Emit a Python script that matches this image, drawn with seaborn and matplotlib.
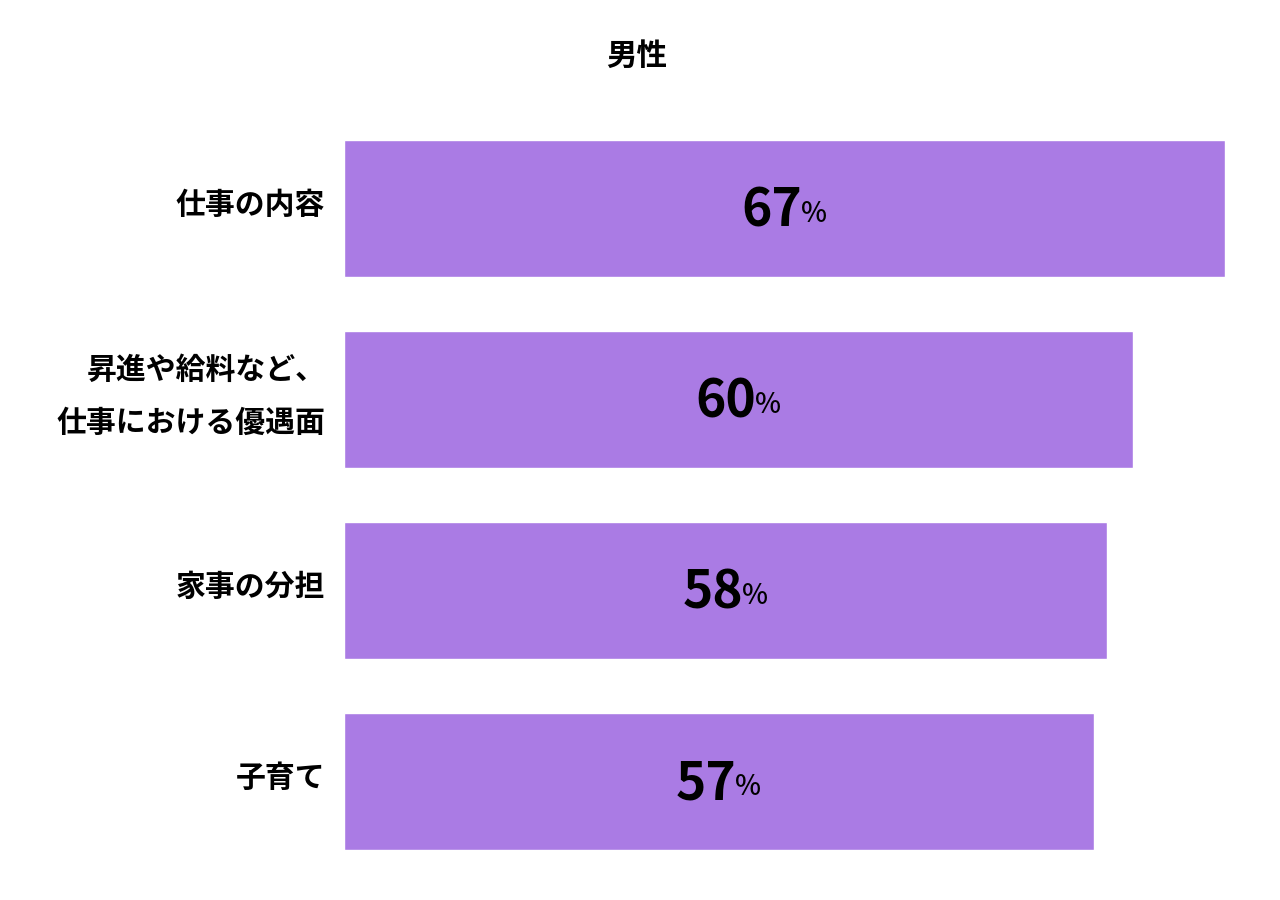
import matplotlib
matplotlib.use("Agg")
import matplotlib.pyplot as plt
import seaborn as sns
import pandas as pd

categories = ["仕事の内容", "昇進や給料など、\n仕事における優遇面", "家事の分担", "子育て"]
values = [67, 60, 58, 57]
title = "男性"
bar_color = "#AA7BE4"

sns.set_theme(style="white")
plt.rcParams['font.family'] = ['Noto Sans CJK JP', 'DejaVu Sans']

df = pd.DataFrame({"category": categories, "value": values})

fig = plt.figure(figsize=(12.8, 9), dpi=100)
ax = fig.add_axes([344/1280, 1-850/900, 881/1280, 710/900])
sns.barplot(data=df, x="value", y="category", color=bar_color, width=0.72,
            saturation=1, ax=ax, orient="h")
ax.set_xlim(0, 67)
ax.set_ylim(3.36, -0.36)
ax.set_xlabel("")
ax.set_ylabel("")
ax.set_xticks([])
for s in ax.spines.values():
    s.set_visible(False)
ax.tick_params(axis="y", length=0, pad=12)
ax.set_yticklabels([])

for i, cat in enumerate(categories):
    ax.annotate(cat, xy=(0, i), xycoords="data", xytext=(-13.5, 2.5),
                textcoords="offset points", ha="right", va="center",
                multialignment="right", fontsize=21.5, fontweight="bold",
                linespacing=1.95, color="black")

for i, v in enumerate(values):
    t = ax.annotate(str(v), xy=(v / 2, i), xycoords="data",
                    xytext=(-9, -2), textcoords="offset points",
                    ha="center", va="center", fontsize=37, fontweight="bold",
                    color="black")
    ax.annotate("%", xy=(1, 0), xycoords=t, xytext=(-1, 7), textcoords="offset points",
                ha="left", va="bottom", fontsize=20, fontweight="medium", color="black")

fig.text(637/1280, 1-56/900, title, ha="center", va="center", fontsize=22,
         fontweight="bold", color="black")

fig.savefig("out.png", dpi=100)
